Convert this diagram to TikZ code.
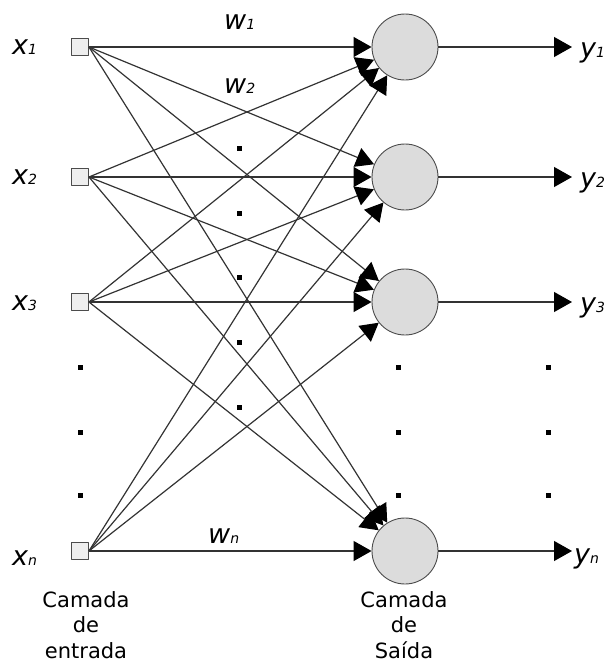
\documentclass[tikz,border=0pt]{standalone}
\usepackage{fontspec}
\setmainfont{DejaVu Sans}
\usetikzlibrary{arrows.meta}

\definecolor{wiregray}{HTML}{333333}
\definecolor{cellgray}{HTML}{DCDCDC}
\definecolor{boxgray}{HTML}{EEEEEE}

% small italic index set on the baseline
\newcommand{\idx}[1]{{\fontsize{14}{14}\selectfont #1}}

\begin{document}
\begin{tikzpicture}[x=1pt,y=-1pt,line join=round,>={Triangle[length=18pt,width=20pt,color=black]}]
	\tikzset{
		inbox/.style={draw=black!70,fill=boxgray,minimum size=17pt,inner sep=0pt,line width=0.9pt},
		neuron/.style={circle,draw=black!70,fill=cellgray,minimum size=66pt,inner sep=0pt,line width=0.9pt},
		wire/.style={draw=wiregray,line width=1.2pt},
		var/.style={font=\fontsize{27}{27}\selectfont\itshape,inner sep=0pt,anchor=base west},
		dot/.style={fill=black,minimum size=5pt,inner sep=0pt},
		layer/.style={font=\fontsize{21}{25.5}\selectfont,align=center,inner sep=0pt,anchor=base}
	}
	\useasboundingbox (0,0) rectangle (611,664);
	% input boxes, output neurons and free ends of the output arrows
	\foreach \n/\y in {1/47,2/177,3/302,n/551} {
		\node[inbox] (in\n) at (80,\y) {};
		\node[neuron] (out\n) at (405,\y) {};
		\coordinate (end\n) at (572,\y);
	}
	% every input feeds every neuron
	\foreach \i in {1,2,3,n}
	\foreach \o in {1,2,3,n}
	\draw[wire,->] (in\i.east) -- (out\o);
	\foreach \n in {1,2,3,n}
	\draw[wire,->] (out\n) -- (end\n);
	% inputs and outputs
	\node[var] (x1) at (12,54) {x\idx{1}};
	\node[var] (x2) at (12,184) {x\idx{2}};
	\node[var] (x3) at (12,310) {x\idx{3}};
	\node[var] (xn) at (12,565) {x\idx{n}};
	\node[var] (y1) at (580,57) {y\idx{1}};
	\node[var] (y2) at (580,187) {y\idx{2}};
	\node[var] (y3) at (580,312) {y\idx{3}};
	\node[var] (yn) at (574,563) {y\idx{n}};
	% weights
	\node[var] (w1) at (224,29) {w\idx{1}};
	\node[var] (w2) at (224,93) {w\idx{2}};
	\node[var] (wn) at (208,543) {w\idx{n}};
	% ellipsis dots
	\foreach \y [count=\k] in {148,213,277,342,407}
	\node[dot] (dw\k) at (239,\y) {};
	\foreach \y [count=\k] in {367,432,495} {
		\node[dot] (di\k) at (80,\y) {};
		\node[dot] (dn\k) at (398,\y) {};
		\node[dot] (do\k) at (548,\y) {};
	}
	% layer captions (base is the last line)
	\node[layer] (capin) at (86,658) {Camada\\de\\entrada};
	\node[layer] (capout) at (404,658) {Camada\\de\\Saída};
\end{tikzpicture}
\end{document}
